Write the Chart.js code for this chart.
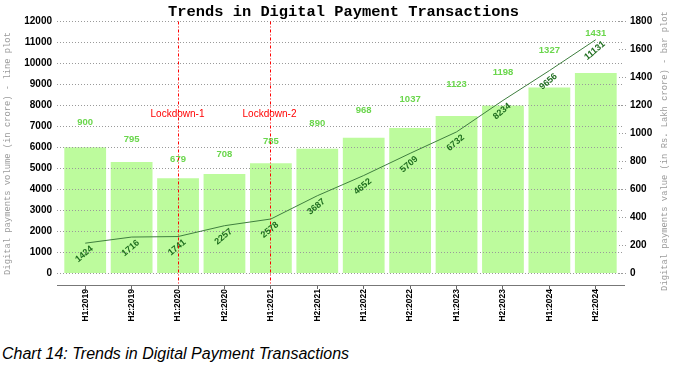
<!DOCTYPE html>
<html><head><meta charset="utf-8">
<script src="https://cdn.jsdelivr.net/npm/chart.js@4"></script>
<style>
html,body{margin:0;padding:0;background:#fff;width:687px;height:368px;overflow:hidden}
#wrap{position:absolute;left:0;top:0;width:687px;height:335px}
#cap{position:absolute;left:2px;top:345px;font:italic 16px "Liberation Sans",Arial,sans-serif;line-height:18px;color:#000;white-space:nowrap}
</style></head><body>
<div id="wrap"><canvas id="c" width="687" height="335"></canvas></div>
<div id="cap">Chart 14: Trends in Digital Payment Transactions</div>
<script>
const categories = ['H1:2019','H2:2019','H1:2020','H2:2020','H1:2021','H2:2021','H1:2022','H2:2022','H1:2023','H2:2023','H1:2024','H2:2024'];
const volumeCrore = [1424, 1716, 1741, 2257, 2578, 3687, 4652, 5709, 6732, 8234, 9656, 11131];
const valueLakhCrore = [900, 795, 679, 708, 785, 890, 968, 1037, 1123, 1198, 1327, 1431];
const leftTicks = [0,1000,2000,3000,4000,5000,6000,7000,8000,9000,10000,11000,12000];
const rightTicks = [0,200,400,600,800,1000,1200,1400,1600,1800];
const lockdowns = [{label:'Lockdown-1', category:'H1:2020'}, {label:'Lockdown-2', category:'H1:2021'}];
const chartTitle = 'Trends in Digital Payment Transactions';
const leftTitle = 'Digital payments volume (in crore) - line plot';
const rightTitle = 'Digital payments value (in Rs. Lakh crore) - bar plot';

const overlay = {
  id: 'overlay',
  afterDatasetDraw(chart, args) {
    if (args.index !== 0) return;
    const ctx = chart.ctx, yl = chart.scales.yL, yr = chart.scales.yR;
    ctx.save();
    ctx.strokeStyle = '#9a9a9a'; ctx.lineWidth = 1; ctx.setLineDash([1,2]);
    leftTicks.forEach(v => {
      const y = Math.round(yl.getPixelForValue(v)) + 0.5;
      ctx.beginPath(); ctx.moveTo(57, y); ctx.lineTo(623, y); ctx.stroke();
    });
    rightTicks.forEach(v => {
      const y = Math.round(yr.getPixelForValue(v)) + 0.5;
      ctx.beginPath(); ctx.moveTo(619, y); ctx.lineTo(628, y); ctx.stroke();
    });
    ctx.restore();
  },
  afterDatasetsDraw(chart) {
    const ctx = chart.ctx, x = chart.scales.x, yl = chart.scales.yL, yr = chart.scales.yR, ca = chart.chartArea;
    ctx.save();
    ctx.strokeStyle = '#777'; ctx.lineWidth = 1; ctx.setLineDash([]);
    ctx.beginPath(); ctx.moveTo(57, Math.round(ca.bottom)+0.5); ctx.lineTo(625, Math.round(ca.bottom)+0.5); ctx.stroke();
    ctx.textAlign = 'center'; ctx.textBaseline = 'middle';
    ctx.font = 'bold 9.5px "Liberation Sans", Arial, sans-serif';
    ctx.fillStyle = '#6ad64c';
    valueLakhCrore.forEach((v, i) => {
      ctx.fillText(String(v), x.getPixelForValue(i), yr.getPixelForValue(v * 1.2));
    });
    ctx.font = 'bold 9px "Liberation Sans", Arial, sans-serif';
    ctx.fillStyle = '#1f6e1f';
    volumeCrore.forEach((v, i) => {
      const px = x.getPixelForValue(i), py = yl.getPixelForValue(v);
      ctx.save();
      ctx.translate(px - 1, py + 11);
      ctx.rotate(-40 * Math.PI / 180);
      ctx.fillText(String(v), 0, 0);
      ctx.restore();
    });
    ctx.font = '8.8px "Liberation Mono", "DejaVu Sans Mono", monospace';
    ctx.fillStyle = '#9a9a9a';
    ctx.save(); ctx.translate(8, 153.5); ctx.rotate(-Math.PI/2); ctx.fillText(leftTitle, 0, 0); ctx.restore();
    ctx.save(); ctx.translate(665, 151); ctx.rotate(-Math.PI/2); ctx.fillText(rightTitle, 0, 0); ctx.restore();
    ctx.restore();
  },
  afterDraw(chart) {
    const ctx = chart.ctx, x = chart.scales.x, ca = chart.chartArea;
    lockdowns.forEach(l => {
      const px = Math.floor(x.getPixelForValue(categories.indexOf(l.category))) + 0.5;
      ctx.save();
      ctx.strokeStyle = 'rgb(255,0,0)'; ctx.lineWidth = 1; ctx.setLineDash([3,2,1,2]);
      ctx.beginPath(); ctx.moveTo(px, ca.top); ctx.lineTo(px, ca.bottom); ctx.stroke();
      ctx.setLineDash([]);
      ctx.font = '10px "Liberation Sans", Arial, sans-serif';
      ctx.fillStyle = 'rgb(255,0,0)'; ctx.textAlign = 'center'; ctx.textBaseline = 'middle';
      ctx.fillText(l.label, px - 1, ca.top + 93);
      ctx.restore();
    });
  }
};

const tickFont = { family: '"Liberation Sans", Arial, sans-serif', size: 10, weight: 'bold' };

new Chart(document.getElementById('c'), {
  data: {
    labels: categories,
    datasets: [
      { type: 'bar', data: valueLakhCrore, yAxisID: 'yR', backgroundColor: '#bdfb9d', borderWidth: 0,
        categoryPercentage: 1, barPercentage: 0.9, order: 2 },
      { type: 'line', data: volumeCrore, yAxisID: 'yL', borderColor: '#3f7f3f', borderWidth: 1,
        pointRadius: 0, tension: 0, fill: false, order: 1 }
    ]
  },
  options: {
    responsive: false, animation: false, devicePixelRatio: 1,
    layout: { padding: 0 },
    plugins: {
      legend: { display: false }, tooltip: { enabled: false },
      title: { display: true, text: chartTitle, color: '#000', align: 'center',
        font: { family: '"Liberation Mono", "Courier New", monospace', size: 15.4, weight: 'bold' },
        padding: { top: 3, bottom: 0 } }
    },
    scales: {
      x: {
        type: 'category', offset: true,
        grid: { display: true, drawOnChartArea: false, drawTicks: true, tickLength: 4, color: '#666', offset: false },
        border: { display: false },
        ticks: { autoSkip: false, maxRotation: 90, minRotation: 90, padding: 0, color: '#000',
          font: { family: '"Liberation Sans", Arial, sans-serif', size: 8.5, weight: 'bold' } },
        afterFit(s) { s.height = 50; }
      },
      yL: {
        type: 'linear', position: 'left', min: -571, max: 12000,
        afterBuildTicks(s) { s.ticks = leftTicks.map(v => ({ value: v })); },
        grid: { display: false, drawTicks: false }, border: { display: false },
        ticks: { padding: 10, color: '#000', font: tickFont, callback: v => String(v) },
        afterFit(s) { s.width = 62; }
      },
      yR: {
        type: 'linear', position: 'right', min: -85.7, max: 1800,
        afterBuildTicks(s) { s.ticks = rightTicks.map(v => ({ value: v })); },
        grid: { display: false, drawTicks: false }, border: { display: false },
        ticks: { padding: 11, color: '#000', font: tickFont, callback: v => String(v) },
        afterFit(s) { s.width = 68; }
      }
    }
  },
  plugins: [overlay]
});
</script>
</body></html>
